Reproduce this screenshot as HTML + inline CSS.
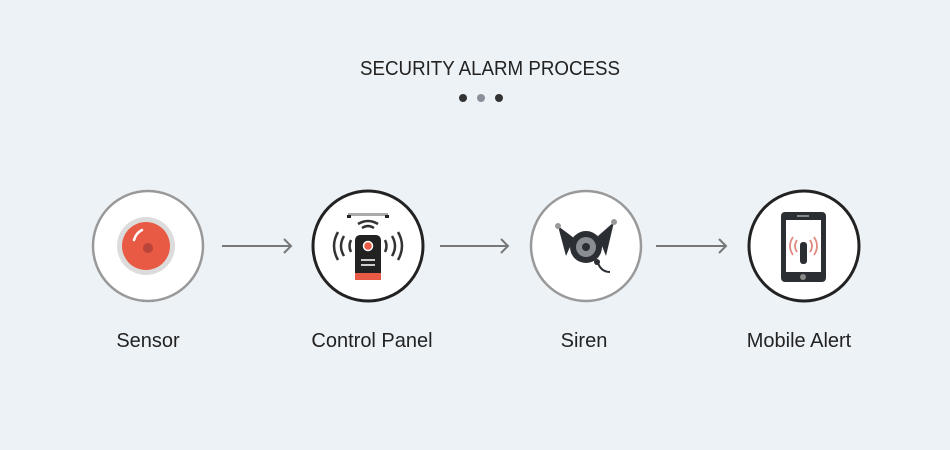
<!DOCTYPE html>
<html><head><meta charset="utf-8"><style>
body{margin:0;background:#edf2f6;}
svg{display:block}
text{font-family:"Liberation Sans",sans-serif;fill:#222}
</style></head><body>
<svg width="950" height="450" viewBox="0 0 950 450">
<rect width="950" height="450" fill="#edf2f6"/>
<text x="490" y="75" text-anchor="middle" font-size="20" textLength="260" lengthAdjust="spacingAndGlyphs">SECURITY ALARM PROCESS</text>
<circle cx="463" cy="98" r="4" fill="#333"/>
<circle cx="481" cy="98" r="4" fill="#8a9099"/>
<circle cx="499" cy="98" r="4" fill="#333"/>
<g stroke="#777" stroke-width="2" fill="none">
<line x1="222" y1="246" x2="291" y2="246"/><polyline points="284,239 291,246 284,253"/>
<line x1="440" y1="246" x2="508" y2="246"/><polyline points="501,239 508,246 501,253"/>
<line x1="656" y1="246" x2="726" y2="246"/><polyline points="719,239 726,246 719,253"/>
</g>
<circle cx="148" cy="246" r="55" fill="#fff" stroke="#999" stroke-width="2.5"/>
<circle cx="146" cy="246" r="29" fill="#dcdcdc"/>
<circle cx="146" cy="246" r="24" fill="#e95a45"/>
<path d="M134 240 Q136 233 142 230" stroke="#fff" stroke-width="2.5" fill="none" stroke-linecap="round"/>
<circle cx="148" cy="248" r="5" fill="#b8443a"/>
<circle cx="368" cy="246" r="55" fill="#fff" stroke="#222" stroke-width="3"/>
<rect x="348" y="213" width="40" height="3" fill="#aaa"/>
<rect x="347" y="215" width="4" height="3" fill="#222"/><rect x="385" y="215" width="4" height="3" fill="#222"/>
<g stroke="#333" stroke-width="2.5" fill="none">
<path d="M362 228 Q368 224 374 228"/><path d="M358 224 Q368 218 378 224"/>
<path d="M344 236 Q338 246 344 256"/><path d="M338 232 Q330 246 338 260"/><path d="M351 240 Q348 246 351 252"/>
<path d="M392 236 Q398 246 392 256"/><path d="M398 232 Q406 246 398 260"/><path d="M385 240 Q388 246 385 252"/>
</g>
<rect x="355" y="235" width="26" height="45" rx="5" fill="#222"/>
<rect x="355" y="273" width="26" height="7" fill="#e95a45"/>
<circle cx="368" cy="246" r="4.5" fill="#e95a45" stroke="#fff" stroke-width="1.5"/>
<rect x="361" y="259" width="14" height="2" fill="#ccc"/><rect x="361" y="264" width="14" height="2" fill="#ccc"/>
<circle cx="586" cy="246" r="55" fill="#fff" stroke="#999" stroke-width="2.5"/>
<polygon points="558,226 574,238 566,256" fill="#2b2e33"/>
<polygon points="614,222 598,236 606,256" fill="#2b2e33"/>
<circle cx="558" cy="226" r="3" fill="#999"/><circle cx="614" cy="222" r="3" fill="#999"/>
<circle cx="586" cy="247" r="16" fill="#2b2e33"/>
<circle cx="586" cy="247" r="10" fill="#8a8d91"/>
<circle cx="586" cy="247" r="4" fill="#2b2e33"/>
<path d="M597 260 Q600 272 610 272" stroke="#2b2e33" stroke-width="2" fill="none"/>
<circle cx="597" cy="262" r="3" fill="#2b2e33"/>
<circle cx="804" cy="246" r="55" fill="#fff" stroke="#222" stroke-width="3"/>
<rect x="781" y="212" width="45" height="70" rx="4" fill="#2b2e33"/>
<rect x="786" y="220" width="35" height="52" fill="#fff"/>
<rect x="797" y="215" width="12" height="2" fill="#888"/>
<circle cx="803" cy="277" r="3" fill="#888"/>
<rect x="800" y="242" width="7" height="22" rx="3" fill="#2b2e33"/>
<g stroke="#e08a80" stroke-width="1.8" fill="none">
<path d="M797 240 Q793 246 797 252"/><path d="M793 237 Q787 246 793 255"/>
<path d="M810 240 Q814 246 810 252"/><path d="M814 237 Q820 246 814 255"/>
</g>
<text x="148" y="347" text-anchor="middle" font-size="20">Sensor</text>
<text x="372" y="347" text-anchor="middle" font-size="20">Control Panel</text>
<text x="584" y="347" text-anchor="middle" font-size="20">Siren</text>
<text x="799" y="347" text-anchor="middle" font-size="20">Mobile Alert</text>
</svg>
</body></html>
